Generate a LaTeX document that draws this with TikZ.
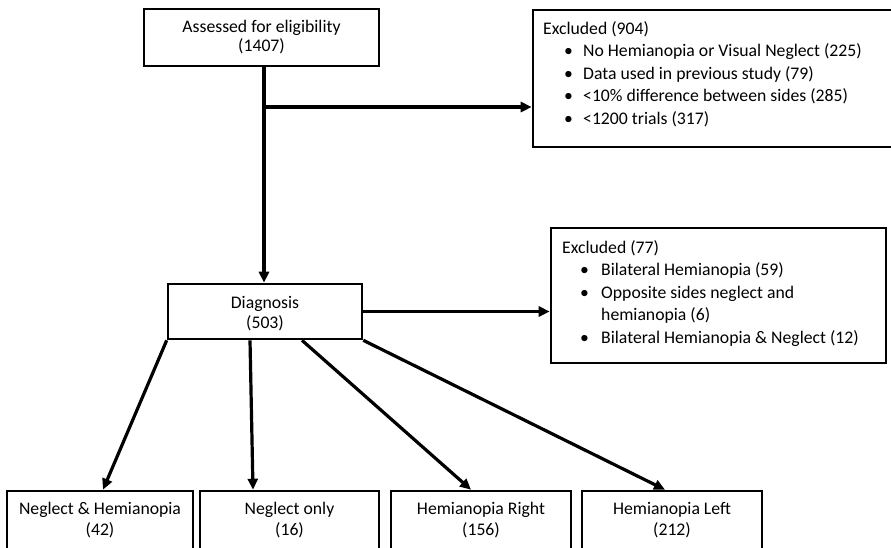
\documentclass[tikz,border=0pt]{standalone}
\usepackage{fontspec}
\setmainfont{Carlito}
\usetikzlibrary{arrows.meta}
\begin{document}
\begin{tikzpicture}[x=1pt,y=-1pt,
  box/.style={draw=black,line width=2.6pt,inner sep=0pt,fill=white},
  conn/.style={line width=3.2pt,-{Triangle[length=11pt,width=10pt]}},
  txt/.style={inner sep=0pt,font=\fontsize{17.7}{22.5}\selectfont}]
\useasboundingbox (0,0) rectangle (891,547);
\fill[white] (0,0) rectangle (891,547);
% boxes
\node[box,minimum width=235pt,minimum height=57pt] (assess) at (261.5,37.5) {};
\node[box,minimum width=372pt,minimum height=137pt] (ex1) at (719,78.5) {};
\node[box,minimum width=194pt,minimum height=55pt] (diag) at (265,311.5) {};
\node[box,minimum width=335pt,minimum height=135pt] (ex2) at (718.5,295.5) {};
\node[box,minimum width=186pt,minimum height=89pt] (b1) at (100,535.5) {};
\node[box,minimum width=179pt,minimum height=89pt] (b2) at (289.5,535.5) {};
\node[box,minimum width=180pt,minimum height=89pt] (b3) at (481,535.5) {};
\node[box,minimum width=180pt,minimum height=89pt] (b4) at (672,535.5) {};
% texts
\node[txt,anchor=base] (t1a) at (261.5,32) {Assessed for eligibility};
\node[txt,anchor=base] (t1b) at (261.5,51) {(1407)};
\node[txt,anchor=base] (t2a) at (265,308) {Diagnosis};
\node[txt,anchor=base] (t2b) at (265,328) {(503)};
\node[txt,anchor=base west] (e1a) at (543,34) {Excluded (904)};
\node[txt,anchor=base west] (e1b) at (543,56.5) {\hspace*{21pt}\makebox[19pt][l]{•}No Hemianopia or Visual Neglect (225)};
\node[txt,anchor=base west] (e1c) at (543,79) {\hspace*{21pt}\makebox[19pt][l]{•}Data used in previous study (79)};
\node[txt,anchor=base west] (e1d) at (543,101.5) {\hspace*{21pt}\makebox[19pt][l]{•}<10\% difference between sides (285)};
\node[txt,anchor=base west] (e1e) at (543,124) {\hspace*{21pt}\makebox[19pt][l]{•}<1200 trials (317)};
\node[txt,anchor=base west] (e2a) at (562,253) {Excluded (77)};
\node[txt,anchor=base west] (e2b) at (562,275.5) {\hspace*{18pt}\makebox[21pt][l]{•}Bilateral Hemianopia (59)};
\node[txt,anchor=base west] (e2c) at (562,298) {\hspace*{18pt}\makebox[21pt][l]{•}Opposite sides neglect and};
\node[txt,anchor=base west] (e2d) at (562,320.5) {\hspace*{18pt}\makebox[21pt][l]{}hemianopia (6)};
\node[txt,anchor=base west] (e2e) at (562,343) {\hspace*{18pt}\makebox[21pt][l]{•}Bilateral Hemianopia \& Neglect (12)};
\node[txt,anchor=base] (b1a) at (100,514) {Neglect \& Hemianopia};
\node[txt,anchor=base] (b1b) at (100,535) {(42)};
\node[txt,anchor=base] (b2a) at (289.5,514) {Neglect only};
\node[txt,anchor=base] (b2b) at (289.5,535) {(16)};
\node[txt,anchor=base] (b3a) at (481,514) {Hemianopia Right};
\node[txt,anchor=base] (b3b) at (481,535) {(156)};
\node[txt,anchor=base] (b4a) at (672,514) {Hemianopia Left};
\node[txt,anchor=base] (b4b) at (672,535) {(212)};
% connectors
\coordinate (j) at (264,107);
\draw[line width=3.2pt] (assess.south -| j) -- (j);
\draw[conn] (j) -- (diag.north -| j);
\draw[conn] (j) -- (ex1.west |- j);
\draw[conn] (diag.east) -- (ex2.west |- diag.east);
\draw[conn] (diag.south west) -- (b1.north -| 103,0);
\draw[conn] (diag.south -| 250,0) -- (b2.north -| 253,0);
\draw[conn] (diag.south -| 302,0) -- (b3.north -| 471,0);
\draw[conn] (diag.south east) -- (b4.north -| 665,0);
\end{tikzpicture}
\end{document}
